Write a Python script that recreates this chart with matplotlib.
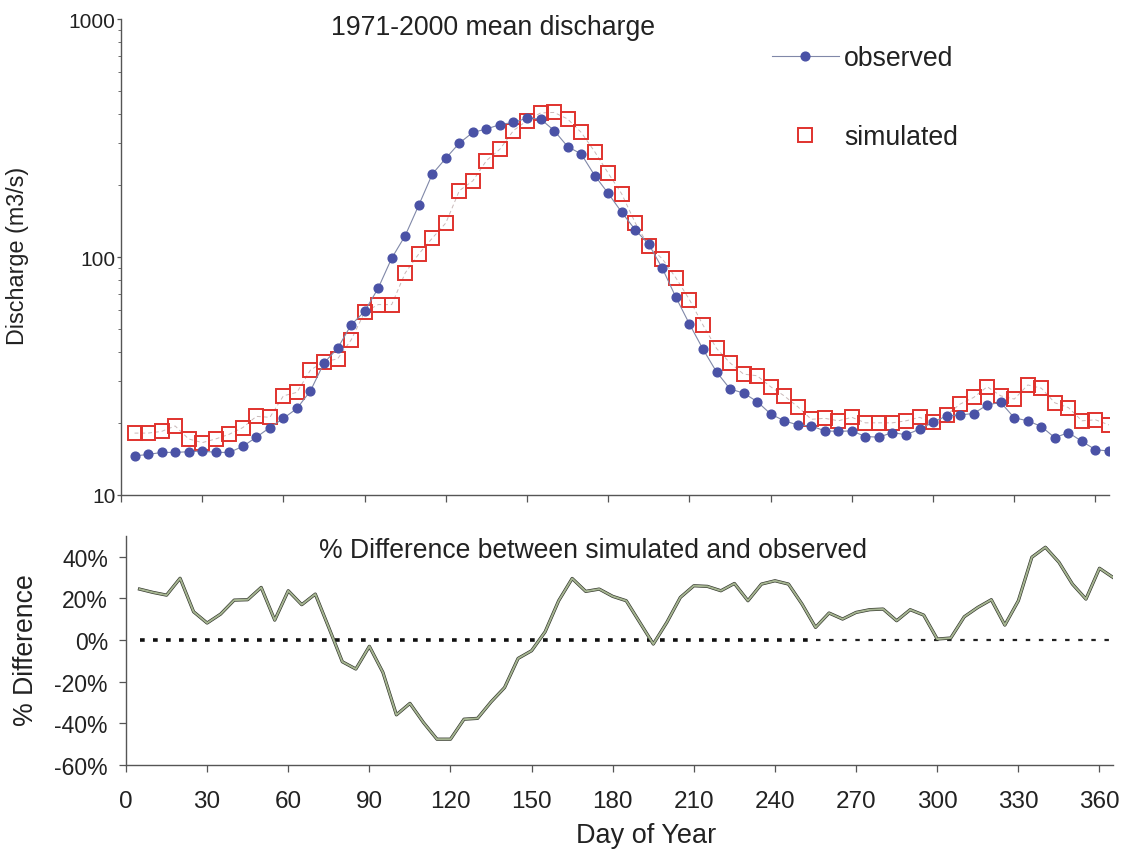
import matplotlib
matplotlib.use("Agg")
import matplotlib.pyplot as plt
from matplotlib.lines import Line2D
from matplotlib.ticker import FixedLocator, FuncFormatter, LogLocator, NullFormatter
import numpy as np

plt.rcParams['font.family'] = ['Liberation Sans', 'DejaVu Sans']

# ---- data (5-day means, day of year) ----
days = list(range(5, 366, 5))
observed = [14.6, 14.8, 15.1, 15.1, 15.2, 15.3, 15.1, 15.1, 16.0, 17.5,
            19.2, 21.0, 23.1, 27.4, 35.9, 41.3, 51.8, 59.1, 73.9, 98.8,
            123, 165, 223, 260, 301, 334, 345, 360, 368, 383,
            380, 340, 291, 271, 220, 185, 154, 130, 113, 89.6,
            67.7, 52.3, 41.0, 32.9, 27.9, 26.8, 24.7, 21.9, 20.5, 19.7,
            19.5, 18.6, 18.5, 18.6, 17.6, 17.5, 18.3, 17.9, 18.9, 20.2,
            21.5, 21.7, 22.0, 23.9, 24.5, 21.1, 20.5, 19.4, 17.4, 18.3,
            16.8, 15.5, 15.3]
simulated = [18.2, 18.2, 18.5, 19.5, 17.2, 16.6, 17.2, 18.0, 19.2, 21.4,
             21.2, 26.1, 27.0, 33.5, 36.3, 37.3, 44.8, 58.6, 63.1, 63.1,
             85.7, 103, 120, 139, 190, 209, 254, 284, 340, 374,
             403, 405, 380, 334, 277, 225, 184, 139, 111, 98.2,
             81.7, 66.2, 51.8, 41.3, 35.9, 32.2, 31.7, 28.5, 26.1, 23.5,
             20.8, 21.0, 20.5, 21.2, 20.1, 20.1, 20.1, 20.5, 21.2, 20.2,
             21.7, 24.1, 25.7, 28.5, 26.1, 25.3, 29.0, 28.1, 24.4, 23.3,
             20.5, 20.7, 19.7]
pct_diff = [24.5, 22.9, 21.6, 29.7, 13.6, 8.2, 12.5, 19.2, 19.4, 25.3,
            9.6, 23.7, 17.0, 22.1, 6.0, -10.4, -13.9, -3.0, -15.5, -35.9,
            -30.4, -39.6, -47.6, -47.6, -38.0, -37.6, -29.7, -22.8, -8.8, -5.1,
            4.0, 18.9, 29.6, 23.4, 24.5, 21.0, 18.9, 8.5, -1.9, 8.5,
            20.5, 26.1, 25.8, 23.7, 27.2, 18.9, 26.9, 28.5, 26.9, 17.3,
            6.1, 13.0, 10.1, 13.3, 14.6, 14.9, 9.3, 14.6, 12.0, 0.5,
            1.0, 11.2, 15.7, 19.4, 7.2, 18.9, 39.8, 44.6, 37.4, 26.9,
            19.7, 34.5, 30.1]

x_ticks = list(range(0, 361, 30))
q_ticks = [10, 100, 1000]
pct_ticks = [-60, -40, -20, 0, 20, 40]

W, H = 1125, 853
fig = plt.figure(figsize=(W / 100, H / 100), dpi=100)
fig.patch.set_facecolor('white')

ax1 = fig.add_axes([121 / W, 1 - 496 / H, 988 / W, 476 / H])
ax2 = fig.add_axes([126 / W, 1 - 766 / H, 987 / W, 229 / H])

spine_c = '#555555'
txt_c = '#222222'
for ax in (ax1, ax2):
    for s in ('top', 'right'):
        ax.spines[s].set_visible(False)
    for s in ('left', 'bottom'):
        ax.spines[s].set_color(spine_c)
        ax.spines[s].set_linewidth(1.0)
    ax.set_xlim(0, 365)
    ax.xaxis.set_major_locator(FixedLocator(x_ticks))
    ax.tick_params(direction='out', length=5, width=0.9, color=spine_c,
                   labelcolor=txt_c)

# ---- top chart ----
ax1.set_yscale('log')
ax1.set_ylim(10, 1000)
ax1.yaxis.set_major_locator(FixedLocator(q_ticks))
ax1.yaxis.set_major_formatter(FuncFormatter(lambda v, p: f"{int(v)}"))
ax1.yaxis.set_minor_locator(LogLocator(base=10, subs=np.arange(2, 10)))
ax1.yaxis.set_minor_formatter(NullFormatter())
ax1.tick_params(axis='y', which='minor', direction='out', length=2.5, color=spine_c)
ax1.tick_params(axis='y', which='major', labelsize=15, length=3, pad=1)
ax1.tick_params(axis='x', labelbottom=False)

ax1.plot(days, simulated, color='#c8b8b8', lw=0.7, ls=(0, (4, 3)), zorder=2)
ax1.plot(days, simulated, ls='none', marker='s', markersize=10.5,
         markerfacecolor='none', markeredgecolor='#e0322d',
         markeredgewidth=1.4, zorder=3)
ax1.plot(days, observed, color='#8088a8', lw=0.8, marker='o',
         markersize=6.3, markerfacecolor='#4a52a6', markeredgecolor='#4a52a6',
         zorder=4)

fig.text(493 / W, 1 - 28 / H, '1971-2000 mean discharge', ha='center',
         va='center', fontsize=19.2, color=txt_c)
fig.text(18 / W, 1 - 256 / H, 'Discharge (m3/s)', rotation=90, ha='center',
         va='center', fontsize=16.8, color=txt_c)

h_obs = Line2D([], [], color='#8088a8', lw=0.8, marker='o', markersize=6.3,
               markerfacecolor='#4a52a6', markeredgecolor='#4a52a6')
h_sim = Line2D([], [], ls='none', marker='s', markersize=10.5,
               markerfacecolor='none', markeredgecolor='#e0322d',
               markeredgewidth=1.4)
ax1.legend([h_obs, h_sim], ['observed', 'simulated'], loc='upper left',
           bbox_to_anchor=(772 / W, 1 - 46 / H), bbox_transform=fig.transFigure,
           frameon=False, fontsize=19.2, handlelength=2.5, handletextpad=0.2,
           labelspacing=2.0, borderpad=0, borderaxespad=0, numpoints=1,
           labelcolor=txt_c)

# ---- bottom chart ----
ax2.set_ylim(-60, 50)
ax2.yaxis.set_major_locator(FixedLocator(pct_ticks))
ax2.yaxis.set_major_formatter(FuncFormatter(lambda v, p: f"{int(v)}%"))
ax2.tick_params(axis='y', labelsize=16.5, pad=8)
ax2.tick_params(axis='x', labelsize=17.5, pad=13)

zero = [0.0 for _ in days]
d_arr = np.array(days)
z_arr = np.array(zero)
left = d_arr <= 255
right = d_arr >= 255
ax2.plot(d_arr[left], z_arr[left], color='#111111', lw=2.6,
         ls=(0, (1.3, 2.3)), zorder=2)
ax2.plot(d_arr[right], z_arr[right], color='#222222', lw=1.6,
         ls=(0, (2.0, 3.9)), zorder=2)

ax2.plot(days, pct_diff, color='#2f3329', lw=2.3, zorder=3)
ax2.plot(days, pct_diff, color='#a6b592', lw=1.4, zorder=4)

fig.text(593 / W, 1 - 551 / H, '% Difference between simulated and observed',
         ha='center', va='center', fontsize=19.1, color=txt_c)
fig.text(26 / W, 1 - 650 / H, '% Difference', rotation=90, ha='center',
         va='center', fontsize=19.2, color=txt_c)
fig.text(646 / W, 1 - 836 / H, 'Day of Year', ha='center', va='center',
         fontsize=19.5, color=txt_c)

fig.savefig('out.png', dpi=100, facecolor='white')
